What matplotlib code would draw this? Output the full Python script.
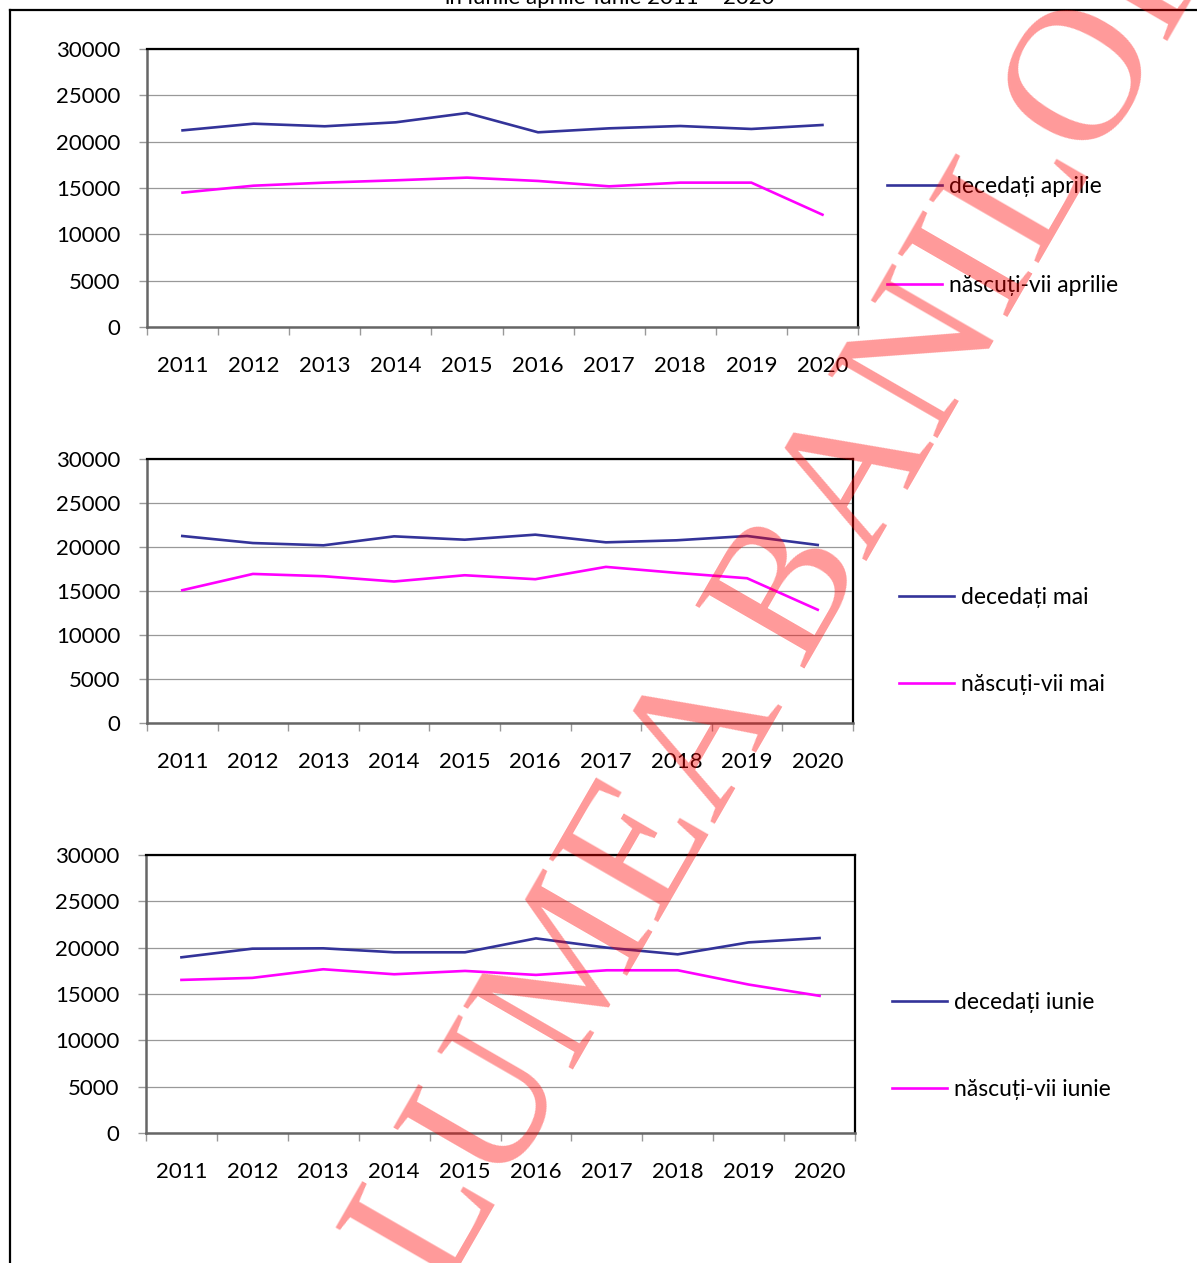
import matplotlib
matplotlib.use("Agg")
import matplotlib.pyplot as plt
from matplotlib.ticker import FixedLocator, NullFormatter, FixedFormatter
from matplotlib.lines import Line2D

plt.rcParams['font.family'] = ['Lato', 'DejaVu Sans']

years = ['2011', '2012', '2013', '2014', '2015', '2016', '2017', '2018', '2019', '2020']

decedati_aprilie = [21220, 21940, 21660, 22090, 23090, 21010, 21440, 21690, 21370, 21800]
nascuti_aprilie = [14500, 15250, 15580, 15830, 16120, 15760, 15180, 15580, 15580, 12120]

decedati_mai = [21250, 20450, 20190, 21210, 20830, 21400, 20530, 20760, 21250, 20230]
nascuti_mai = [15090, 16940, 16680, 16080, 16790, 16340, 17740, 17060, 16450, 12870]

decedati_iunie = [18960, 19890, 19930, 19500, 19500, 21000, 20000, 19280, 20570, 21040]
nascuti_iunie = [16520, 16740, 17670, 17130, 17490, 17060, 17560, 17560, 16020, 14800]

labels_aprilie = ['decedați aprilie', 'născuți-vii aprilie']
labels_mai = ['decedați mai', 'născuți-vii mai']
labels_iunie = ['decedați iunie', 'născuți-vii iunie']

yticks = [0, 5000, 10000, 15000, 20000, 25000, 30000]

title_text = 'în lunile aprilie-iunie 2011 – 2020'
watermark = 'LUMEA BANILOR'

W, H = 1197, 1263
fig = plt.figure(figsize=(W / 100, H / 100), dpi=100)

NAVY = '#333399'
MAG = '#FF00FF'

# panels: (left, right, top, bottom) in pixels, legend (x, y_center), spacing
panels = [
    ((147, 858, 49, 327), decedati_aprilie, nascuti_aprilie, labels_aprilie, (887, 236), 3.42),
    ((147, 853, 459, 723), decedati_mai, nascuti_mai, labels_mai, (899, 641), 2.88),
    ((146, 855, 855, 1133), decedati_iunie, nascuti_iunie, labels_iunie, (892, 1046), 2.88),
]

for (l, r, t, b), dec, nas, labs, (lx, ly), lsp in panels:
    ax = fig.add_axes([l / W, 1 - b / H, (r - l) / W, (b - t) / H])
    x = [i + 0.5 for i in range(len(years))]
    ax.plot(x, dec, color=NAVY, lw=1.9, label=labs[0], solid_joinstyle='miter', zorder=3)
    ax.plot(x, nas, color=MAG, lw=1.9, label=labs[1], solid_joinstyle='miter', zorder=3)
    ax.set_xlim(0, len(years))
    ax.set_ylim(0, 30000)
    ax.set_yticks(yticks)
    ax.set_yticklabels([str(v) for v in yticks])
    ax.yaxis.grid(True, color='#999999', lw=0.9)
    ax.set_axisbelow(True)
    ax.xaxis.set_major_locator(FixedLocator(list(range(len(years) + 1))))
    ax.xaxis.set_major_formatter(NullFormatter())
    ax.xaxis.set_minor_locator(FixedLocator(x))
    ax.xaxis.set_minor_formatter(FixedFormatter(years))
    ax.tick_params(axis='x', which='major', length=6, width=1, color='#999999', direction='out')
    ax.tick_params(axis='x', which='minor', length=0, pad=21, labelsize=16)
    ax.tick_params(axis='y', which='major', length=6, width=1, color='#999999', direction='out',
                   pad=13, labelsize=16)
    for s in ('top', 'right'):
        ax.spines[s].set_color('black')
        ax.spines[s].set_linewidth(1.6)
    for s in ('left', 'bottom'):
        ax.spines[s].set_color('#666666')
        ax.spines[s].set_linewidth(1.8)
    ax.legend(loc='center left', bbox_to_anchor=(lx / W, 1 - ly / H), bbox_transform=fig.transFigure,
              frameon=False, fontsize=16.5, handlelength=2.4, handletextpad=0.3,
              labelspacing=lsp, borderpad=0, borderaxespad=0)

# frame
fig.add_artist(Line2D([10 / W, 10 / W], [0, 1 - 10 / H], color='black', lw=1.6, transform=fig.transFigure))
fig.add_artist(Line2D([10 / W, 1], [1 - 10 / H, 1 - 10 / H], color='black', lw=1.6, transform=fig.transFigure))

# title, mostly cut off at top
fig.text(610 / W, 1 - 4 / H, title_text, ha='center', va='baseline', fontsize=16)

# watermark
fig.text(795 / W, 1 - 592 / H, watermark, ha='center', va='center', rotation=60,
         rotation_mode='anchor', fontsize=138, family='Liberation Serif', color='red', alpha=0.4,
         zorder=10)

fig.savefig('out.png', dpi=100)
